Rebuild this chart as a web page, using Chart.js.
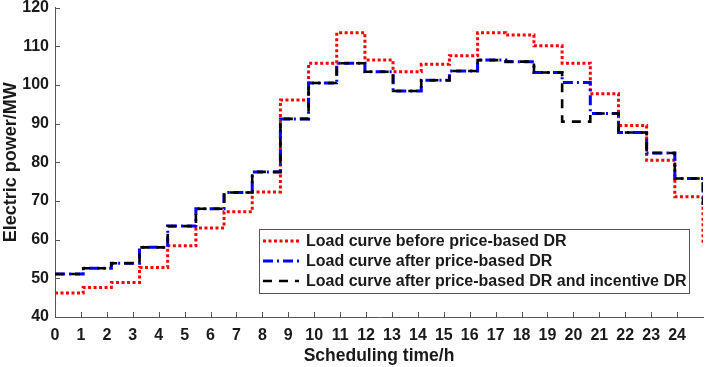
<!DOCTYPE html>
<html>
<head>
<meta charset="utf-8">
<script src="https://cdn.jsdelivr.net/npm/chart.js@4/dist/chart.umd.min.js"></script>
<style>
  html, body { margin: 0; padding: 0; background: #fff; }
  canvas { display: block; }
</style>
</head>
<body>
<canvas id="dr" width="706" height="367"></canvas>
<script>
// time points of the stairs (24 points spread over 0..25 h)
const times = [0, 1.087, 2.174, 3.261, 4.348, 5.435, 6.522, 7.609, 8.696, 9.783,
  10.870, 11.957, 13.043, 14.130, 15.217, 16.304, 17.391, 18.478, 19.565,
  20.652, 21.739, 22.826, 23.913, 25];

const beforeDR = [46.2, 47.6, 48.9, 52.8, 58.4, 63.0, 67.2, 72.3, 96.1, 105.6,
  113.5, 106.4, 103.4, 105.3, 107.5, 113.5, 112.9, 110.1, 105.6, 97.7,
  89.5, 80.5, 71.1, 58.5];
const afterPrice = [51.1, 52.6, 53.9, 58.0, 63.5, 68.0, 72.2, 77.5, 91.2, 100.5,
  105.6, 103.4, 98.4, 101.2, 103.6, 106.4, 106.0, 103.2, 100.6, 92.6,
  87.7, 82.4, 75.8, 69.0];
const afterBoth = [51.1, 52.6, 53.9, 58.0, 63.5, 68.0, 72.2, 77.5, 91.2, 100.5,
  105.6, 103.4, 98.4, 101.2, 103.6, 106.4, 106.0, 103.2, 90.5, 92.6,
  87.7, 82.4, 75.8, 69.0];

const seriesNames = [
  "Load curve before price-based DR",
  "Load curve after price-based DR",
  "Load curve after price-based DR and incentive DR"
];

const xTicks = [0, 1, 2, 3, 4, 5, 6, 7, 8, 9, 10, 11, 12, 13, 14, 15, 16, 17, 18, 19, 20, 21, 22, 23, 24];
const yTicks = [40, 50, 60, 70, 80, 90, 100, 110, 120];

const pts = (vals) => vals.map((v, i) => ({ x: times[i], y: v }));

const styles = [
  { color: "#ff0000", width: 3, dash: [3, 2.5] },
  { color: "#0000ff", width: 3, dash: [10, 4, 2, 4] },
  { color: "#000000", width: 2.6, dash: [9, 7] }
];

const font = "'Liberation Sans', Arial, sans-serif";

// inward tick marks, MATLAB style
const innerTicks = {
  id: "innerTicks",
  afterDraw(chart) {
    const c = chart.ctx, a = chart.chartArea;
    const xs = chart.scales.x, ys = chart.scales.y;
    c.save();
    c.strokeStyle = "#555";
    c.lineWidth = 1;
    c.beginPath();
    xTicks.forEach(t => {
      const px = Math.round(xs.getPixelForValue(t)) + 0.5;
      c.moveTo(px, a.bottom); c.lineTo(px, a.bottom - 5);
    });
    yTicks.forEach(t => {
      const py = Math.round(ys.getPixelForValue(t)) + 0.5;
      c.moveTo(a.left, py); c.lineTo(a.left + 5, py);
    });
    c.stroke();
    c.restore();
  }
};

// legend box inside the axes
const boxLegend = {
  id: "boxLegend",
  afterDraw(chart) {
    const c = chart.ctx, a = chart.chartArea;
    const right = a.right - 14, bottom = a.bottom - 24;
    const w = 430, h = 64;
    const left = right - w, top = bottom - h;
    c.save();
    c.fillStyle = "#fff";
    c.fillRect(left, top, w, h);
    c.strokeStyle = "#555";
    c.lineWidth = 1;
    c.strokeRect(Math.round(left) + 0.5, Math.round(top) + 0.5, w, h);
    c.font = "bold 16px " + font;
    c.textBaseline = "middle";
    seriesNames.forEach((name, i) => {
      const y = top + 12 + i * 20;
      const s = styles[i];
      c.strokeStyle = s.color;
      c.lineWidth = s.width;
      c.setLineDash(s.dash);
      c.beginPath();
      c.moveTo(left + 4, y); c.lineTo(left + 40, y);
      c.stroke();
      c.setLineDash([]);
      c.fillStyle = "#1a1a1a";
      c.fillText(name, left + 47, y + 1);
    });
    c.restore();
  }
};

new Chart(document.getElementById("dr"), {
  type: "line",
  data: {
    datasets: [
      { label: seriesNames[0], data: pts(beforeDR), order: 2 },
      { label: seriesNames[1], data: pts(afterPrice), order: 1 },
      { label: seriesNames[2], data: pts(afterBoth), order: 0 }
    ].map((d, i) => Object.assign(d, {
      borderColor: styles[i].color,
      borderWidth: styles[i].width,
      borderDash: styles[i].dash,
      borderCapStyle: "butt",
      stepped: true,
      pointRadius: 0,
      fill: false
    }))
  },
  options: {
    responsive: false,
    animation: false,
    devicePixelRatio: 1,
    layout: { padding: { left: 0, right: 3, top: 7.5, bottom: 0 } },
    plugins: {
      legend: { display: false },
      tooltip: { enabled: false }
    },
    scales: {
      x: {
        type: "linear",
        min: 0,
        max: 25,
        afterBuildTicks: (s) => { s.ticks = xTicks.map(v => ({ value: v })); },
        afterFit: (s) => { s.height = 50; s.paddingLeft = 0; s.paddingRight = 0; },
        grid: { drawOnChartArea: false, drawTicks: false },
        border: { color: "#555", width: 1 },
        ticks: {
          padding: 9,
          color: "#1a1a1a",
          maxRotation: 0,
          autoSkip: false,
          font: { family: font, size: 16, weight: "bold" }
        },
        title: {
          display: true,
          text: "Scheduling time/h",
          color: "#1a1a1a",
          padding: { top: 0, bottom: 0 },
          font: { family: font, size: 17.5, weight: "bold" }
        }
      },
      y: {
        min: 40,
        max: 120,
        afterBuildTicks: (s) => { s.ticks = yTicks.map(v => ({ value: v })); },
        afterFit: (s) => { s.width = 55; s.paddingTop = 0; s.paddingBottom = 0; },
        grid: { drawOnChartArea: false, drawTicks: false },
        border: { color: "#555", width: 1 },
        ticks: {
          padding: 6,
          color: "#1a1a1a",
          font: { family: font, size: 16, weight: "bold" }
        },
        title: {
          display: true,
          text: "Electric power/MW",
          color: "#1a1a1a",
          padding: { top: 0, bottom: 0 },
          font: { family: font, size: 18, weight: "bold" }
        }
      }
    }
  },
  plugins: [innerTicks, boxLegend]
});
</script>
</body>
</html>
